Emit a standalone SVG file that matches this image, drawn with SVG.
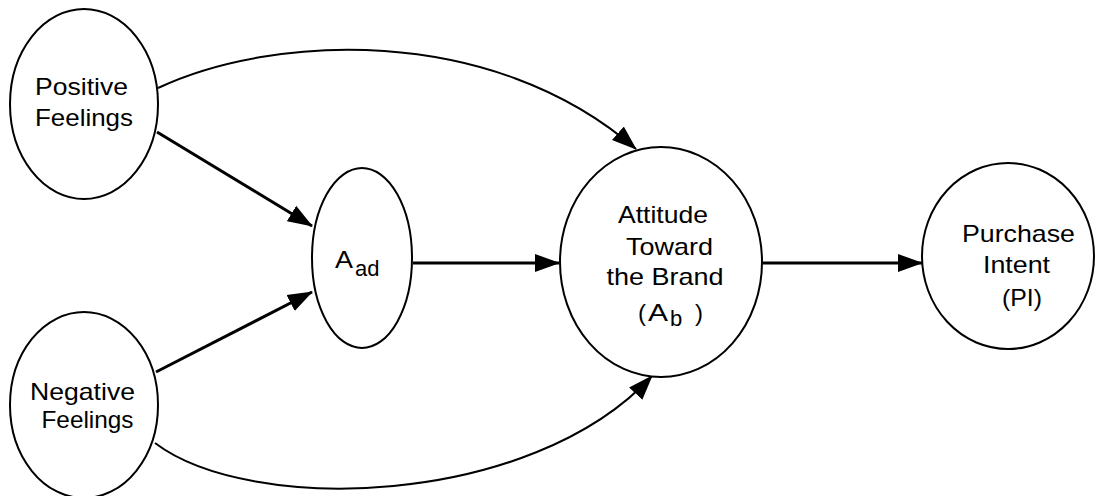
<svg xmlns="http://www.w3.org/2000/svg" width="1096" height="496" viewBox="0 0 1096 496">
<style>
.node{fill:#fff;stroke:#000;stroke-width:2}
.lbl{font-family:"Liberation Sans",Arial,sans-serif;font-size:24px;fill:#000;text-anchor:middle}
.st{text-anchor:start}
.sub{font-size:22px}
.edge{fill:none;stroke:#000;stroke-width:3}
.curve{fill:none;stroke:#000;stroke-width:2}
</style>
<defs>
<marker id="ah" markerUnits="userSpaceOnUse" markerWidth="26" markerHeight="20" viewBox="0 0 26 20" refX="24" refY="10" orient="auto">
<path d="M0,1 L25,10 L0,19 Z" fill="#000"/>
</marker>
</defs>
<g id="connectors">
<path class="curve" d="M158,88 C270,35 490,22 636,149" marker-end="url(#ah)"/>
<path class="curve" d="M155,443 C250,515 530,508 652,376" marker-end="url(#ah)"/>
<path class="edge" d="M157,132 L312,226" marker-end="url(#ah)"/>
<path class="edge" d="M156,372 L312,292" marker-end="url(#ah)"/>
<path class="edge" d="M413,263 L559,263" marker-end="url(#ah)"/>
<path class="edge" d="M763,263 L922,263" marker-end="url(#ah)"/>
</g>
<g id="positive">
<ellipse class="node" cx="84" cy="104" rx="74" ry="95"/>
<text class="lbl" x="81.5" y="95" textLength="93" lengthAdjust="spacingAndGlyphs">Positive</text>
<text class="lbl" x="84" y="126" textLength="98" lengthAdjust="spacingAndGlyphs">Feelings</text>
</g>
<g id="negative">
<ellipse class="node" cx="84" cy="405" rx="74" ry="93"/>
<text class="lbl" x="82.5" y="400" textLength="105" lengthAdjust="spacingAndGlyphs">Negative</text>
<text class="lbl" x="87.5" y="428" textLength="92" lengthAdjust="spacingAndGlyphs">Feelings</text>
</g>
<g id="aad">
<ellipse class="node" cx="362" cy="258" rx="50" ry="90"/>
<text class="lbl st" y="268"><tspan x="335" textLength="18" lengthAdjust="spacingAndGlyphs">A</tspan><tspan class="sub" x="355" dy="8">ad</tspan></text>
</g>
<g id="ab">
<ellipse class="node" cx="661" cy="262" rx="101" ry="115"/>
<text class="lbl" x="663" y="223" textLength="90" lengthAdjust="spacingAndGlyphs">Attitude</text>
<text class="lbl" x="669.5" y="255" textLength="87" lengthAdjust="spacingAndGlyphs">Toward</text>
<text class="lbl" x="665" y="285" textLength="117" lengthAdjust="spacingAndGlyphs">the Brand</text>
<text class="lbl st" y="321"><tspan x="638">(</tspan><tspan x="648" textLength="20" lengthAdjust="spacingAndGlyphs">A</tspan><tspan class="sub" x="670" dy="5">b</tspan><tspan x="695" dy="-5">)</tspan></text>
</g>
<g id="pi">
<ellipse class="node" cx="1008" cy="256" rx="86" ry="93"/>
<text class="lbl" x="1018.5" y="242" textLength="113" lengthAdjust="spacingAndGlyphs">Purchase</text>
<text class="lbl" x="1016.5" y="273" textLength="67" lengthAdjust="spacingAndGlyphs">Intent</text>
<text class="lbl" x="1022" y="306" textLength="40" lengthAdjust="spacingAndGlyphs">(PI)</text>
</g>
</svg>
